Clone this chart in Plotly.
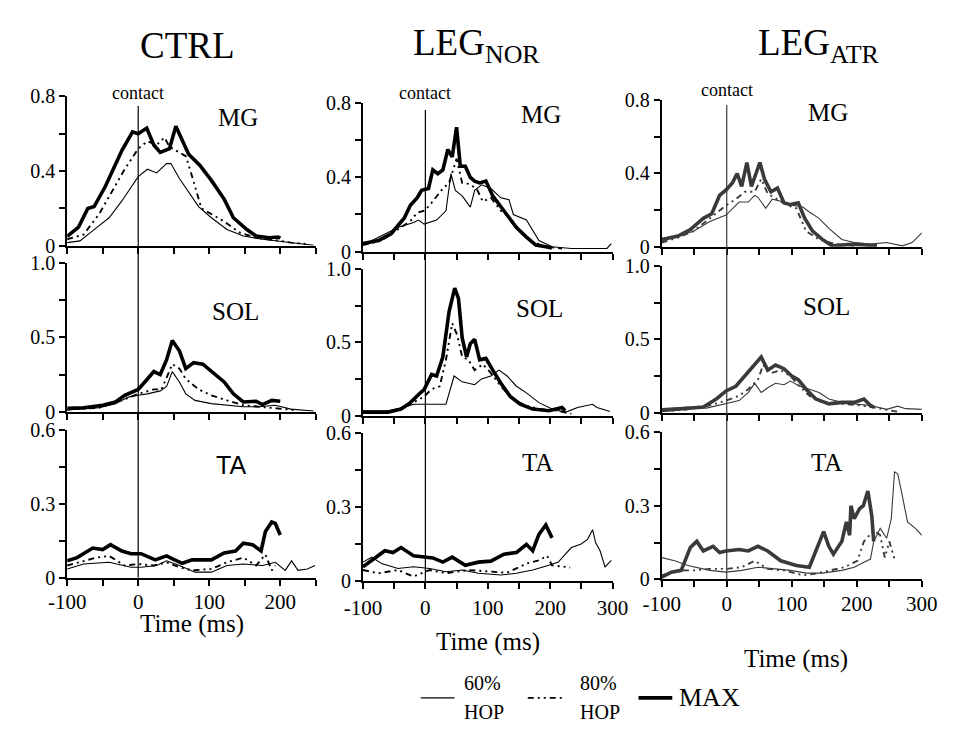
import plotly.graph_objects as go

W, H = 960, 736

# ---------------- labels ----------------
COLUMN_TITLES = ["CTRL", "LEG<sub>NOR</sub>", "LEG<sub>ATR</sub>"]
MUSCLES = ["MG", "SOL", "TA"]
CONDITION_NAMES = ["60% HOP", "80% HOP", "MAX"]
LEGEND_TOP = ["60%", "80%", ""]
LEGEND_BOTTOM = ["HOP", "HOP", ""]
X_TICKS_CTRL = [-100, -50, 0, 50, 100, 150, 200, 250]
X_TICKTEXT_CTRL = ["-100", "", "0", "", "100", "", "200", ""]
X_TICKS_LEG = [-100, -50, 0, 50, 100, 150, 200, 250, 300]
X_TICKTEXT_LEG = ["-100", "", "0", "", "100", "", "200", "", "300"]
Y_TICKS = {"MG": [0, 0.2, 0.4, 0.6, 0.8], "SOL": [0, 0.25, 0.5, 0.75, 1.0], "TA": [0, 0.15, 0.3, 0.45, 0.6]}
Y_TICKTEXT = {"MG": ["0", "", "0.4", "", "0.8"], "SOL": ["0", "", "0.5", "", "1.0"], "TA": ["0", "", "0.3", "", "0.6"]}

# ---------------- data: CTRL ----------------
CTRL_MG_60_T = [-100, -82, -59, -41, -23, -12, 0, 13, 26, 40, 46, 58, 71, 85, 103, 125, 148, 175, 202, 224, 247]
CTRL_MG_60_V = [0.017, 0.026, 0.096, 0.15, 0.24, 0.30, 0.37, 0.41, 0.39, 0.44, 0.44, 0.36, 0.29, 0.21, 0.15, 0.087, 0.052, 0.035, 0.023, 0.012, 0.003]
CTRL_MG_80_T = [-100, -77, -55, -37, -19, 0, 13, 26, 37, 44, 58, 67, 76, 89, 103, 121, 143, 166, 193, 215, 238]
CTRL_MG_80_V = [0.035, 0.06, 0.17, 0.29, 0.41, 0.52, 0.56, 0.54, 0.58, 0.53, 0.50, 0.48, 0.37, 0.20, 0.17, 0.13, 0.07, 0.043, 0.03, 0.017, 0.009]
CTRL_MG_MAX_T = [-100, -84, -71, -62, -46, -32, -23, -8, 0, 12, 22, 31, 44, 53, 62, 71, 87, 103, 121, 134, 153, 166, 184, 197, 200]
CTRL_MG_MAX_V = [0.05, 0.10, 0.20, 0.21, 0.32, 0.43, 0.51, 0.61, 0.60, 0.63, 0.54, 0.50, 0.52, 0.64, 0.56, 0.49, 0.43, 0.35, 0.25, 0.15, 0.087, 0.052, 0.043, 0.047, 0.04]

CTRL_SOL_60_T = [-100, -55, -32, -14, 0, 13, 31, 40, 48, 58, 67, 80, 103, 125, 148, 170, 193, 215, 247]
CTRL_SOL_60_V = [0.011, 0.026, 0.054, 0.098, 0.11, 0.12, 0.14, 0.17, 0.27, 0.20, 0.12, 0.076, 0.054, 0.043, 0.033, 0.033, 0.043, 0.017, 0.004]
CTRL_SOL_80_T = [-100, -55, -23, 0, 22, 33, 40, 48, 58, 67, 85, 103, 125, 148, 170, 193, 220]
CTRL_SOL_80_V = [0.015, 0.026, 0.076, 0.12, 0.15, 0.15, 0.23, 0.32, 0.29, 0.22, 0.15, 0.11, 0.076, 0.043, 0.033, 0.022, 0.011]
CTRL_SOL_MAX_T = [-100, -77, -50, -32, -19, 0, 13, 22, 31, 40, 48, 58, 67, 78, 91, 107, 121, 134, 148, 166, 175, 188, 197, 200]
CTRL_SOL_MAX_V = [0.022, 0.026, 0.043, 0.065, 0.11, 0.15, 0.22, 0.27, 0.25, 0.35, 0.48, 0.41, 0.29, 0.33, 0.32, 0.26, 0.20, 0.12, 0.065, 0.07, 0.048, 0.076, 0.076, 0.07]

CTRL_TA_60_T = [-100, -77, -41, -10, 4, 26, 40, 58, 80, 103, 125, 148, 175, 193, 207, 216, 225, 238, 249]
CTRL_TA_60_V = [0.035, 0.055, 0.062, 0.042, 0.042, 0.049, 0.068, 0.049, 0.022, 0.022, 0.049, 0.055, 0.049, 0.062, 0.029, 0.068, 0.029, 0.035, 0.049]
CTRL_TA_80_T = [-100, -77, -59, -41, -19, 0, 22, 40, 58, 76, 103, 125, 148, 166, 179, 188, 193]
CTRL_TA_80_V = [0.049, 0.068, 0.081, 0.088, 0.049, 0.055, 0.049, 0.062, 0.042, 0.029, 0.035, 0.062, 0.081, 0.049, 0.094, 0.029, 0.049]
CTRL_TA_MAX_T = [-100, -86, -64, -50, -39, -23, -10, 4, 24, 40, 49, 62, 76, 103, 121, 137, 148, 161, 173, 179, 188, 193, 200]
CTRL_TA_MAX_V = [0.068, 0.081, 0.12, 0.114, 0.134, 0.108, 0.097, 0.097, 0.072, 0.088, 0.075, 0.058, 0.072, 0.072, 0.10, 0.108, 0.14, 0.134, 0.108, 0.186, 0.226, 0.22, 0.173]

# ---------------- data: LEG NOR ----------------
NOR_MG_60_T = [-100, -70, -44, -19, -11, -2, 18, 33, 41, 48, 59, 72, 79, 90, 105, 121, 134, 141, 162, 182, 203, 234, 275, 291, 298]
NOR_MG_60_V = [0.035, 0.087, 0.13, 0.157, 0.17, 0.148, 0.17, 0.22, 0.42, 0.33, 0.30, 0.24, 0.33, 0.36, 0.34, 0.29, 0.28, 0.20, 0.17, 0.06, 0.026, 0.017, 0.017, 0.017, 0.043]
NOR_MG_80_T = [-100, -70, -44, -24, -13, -2, 7, 18, 28, 38, 50, 59, 69, 82, 92, 105, 121, 136, 152, 172, 193, 219]
NOR_MG_80_V = [0.035, 0.06, 0.12, 0.165, 0.21, 0.22, 0.25, 0.30, 0.34, 0.37, 0.50, 0.37, 0.365, 0.34, 0.27, 0.29, 0.22, 0.18, 0.11, 0.052, 0.026, 0.017]
NOR_MG_MAX_T = [-100, -75, -55, -34, -24, -13, -6, 5, 12, 20, 28, 36, 43, 50, 56, 64, 72, 79, 87, 97, 108, 126, 146, 162, 177, 193, 203]
NOR_MG_MAX_V = [0.043, 0.06, 0.096, 0.18, 0.25, 0.29, 0.33, 0.34, 0.44, 0.42, 0.44, 0.55, 0.51, 0.67, 0.46, 0.46, 0.40, 0.38, 0.37, 0.38, 0.30, 0.22, 0.13, 0.078, 0.035, 0.026, 0.02]

NOR_SOL_60_T = [-100, -60, -34, -19, -2, 18, 33, 46, 59, 79, 90, 105, 118, 131, 146, 162, 182, 203, 224, 244, 268, 275, 296]
NOR_SOL_60_V = [0.033, 0.033, 0.055, 0.077, 0.077, 0.077, 0.077, 0.27, 0.23, 0.21, 0.25, 0.27, 0.31, 0.27, 0.20, 0.155, 0.088, 0.044, 0.022, 0.055, 0.077, 0.055, 0.027]
NOR_SOL_80_T = [-100, -55, -24, -2, 10, 23, 33, 43, 51, 59, 69, 79, 92, 103, 121, 141, 162, 182, 213, 234]
NOR_SOL_80_V = [0.022, 0.027, 0.077, 0.13, 0.18, 0.20, 0.38, 0.63, 0.55, 0.40, 0.38, 0.31, 0.35, 0.30, 0.20, 0.11, 0.066, 0.044, 0.033, 0.011]
NOR_SOL_MAX_T = [-100, -60, -39, -24, -8, -2, 10, 18, 28, 38, 47, 53, 59, 66, 72, 79, 87, 97, 108, 121, 136, 152, 172, 198, 219, 224]
NOR_SOL_MAX_V = [0.022, 0.022, 0.044, 0.088, 0.155, 0.177, 0.28, 0.27, 0.40, 0.71, 0.87, 0.80, 0.53, 0.40, 0.49, 0.52, 0.38, 0.39, 0.31, 0.22, 0.13, 0.077, 0.044, 0.033, 0.055, 0.033]

NOR_TA_60_T = [-100, -86, -70, -44, -19, 7, 33, 59, 85, 121, 146, 172, 198, 213, 234, 249, 260, 268, 273, 280, 288, 298]
NOR_TA_60_V = [0.078, 0.098, 0.072, 0.052, 0.059, 0.052, 0.039, 0.046, 0.033, 0.026, 0.033, 0.046, 0.065, 0.078, 0.137, 0.15, 0.17, 0.209, 0.156, 0.124, 0.059, 0.085]
NOR_TA_80_T = [-100, -75, -44, -19, 7, 33, 69, 100, 131, 162, 182, 195, 203, 224, 232]
NOR_TA_80_V = [0.046, 0.033, 0.046, 0.020, 0.046, 0.033, 0.046, 0.039, 0.035, 0.072, 0.085, 0.104, 0.065, 0.059, 0.056]
NOR_TA_MAX_T = [-100, -86, -65, -52, -39, -19, -2, 12, 28, 43, 64, 85, 105, 126, 146, 162, 172, 182, 193, 203]
NOR_TA_MAX_V = [0.059, 0.085, 0.124, 0.117, 0.137, 0.104, 0.098, 0.095, 0.078, 0.098, 0.065, 0.078, 0.082, 0.11, 0.117, 0.15, 0.124, 0.19, 0.228, 0.176]

# ---------------- data: LEG ATR ----------------
ATR_MG_60_T = [-100, -75, -51, -26, -1, 19, 33, 43, 48, 60, 70, 88, 102, 117, 127, 142, 157, 177, 196, 221, 246, 270, 285, 300]
ATR_MG_60_V = [0.032, 0.058, 0.085, 0.138, 0.173, 0.244, 0.244, 0.28, 0.27, 0.21, 0.26, 0.244, 0.226, 0.217, 0.19, 0.155, 0.10, 0.04, 0.023, 0.014, 0.023, 0.005, 0.023, 0.076]
ATR_MG_80_T = [-100, -75, -51, -26, -1, 14, 28, 43, 53, 63, 78, 93, 107, 122, 142, 167, 196]
ATR_MG_80_V = [0.023, 0.05, 0.085, 0.155, 0.226, 0.26, 0.30, 0.30, 0.37, 0.29, 0.26, 0.226, 0.21, 0.085, 0.04, 0.014, 0.005]
ATR_MG_MAX_T = [-100, -75, -56, -36, -23, -11, -1, 9, 16, 23, 31, 38, 51, 58, 68, 78, 88, 98, 110, 120, 132, 147, 162, 196, 231]
ATR_MG_MAX_V = [0.04, 0.058, 0.094, 0.155, 0.18, 0.28, 0.31, 0.35, 0.40, 0.33, 0.46, 0.33, 0.46, 0.37, 0.30, 0.32, 0.24, 0.23, 0.24, 0.155, 0.085, 0.04, 0.005, 0.014, 0.005]

ATR_SOL_60_T = [-100, -60, -31, -1, 19, 33, 43, 53, 63, 75, 88, 98, 112, 127, 142, 157, 177, 196, 221, 246, 263, 275, 300]
ATR_SOL_60_V = [0.027, 0.038, 0.031, 0.06, 0.082, 0.137, 0.20, 0.137, 0.17, 0.20, 0.19, 0.215, 0.18, 0.16, 0.137, 0.093, 0.07, 0.06, 0.049, 0.022, 0.044, 0.027, 0.022]
ATR_SOL_80_T = [-100, -60, -26, -1, 19, 33, 48, 56, 68, 83, 98, 112, 127, 147, 177, 206, 236, 265]
ATR_SOL_80_V = [0.009, 0.022, 0.049, 0.082, 0.115, 0.16, 0.225, 0.325, 0.27, 0.29, 0.25, 0.18, 0.115, 0.07, 0.06, 0.049, 0.027, 0.004]
ATR_SOL_MAX_T = [-100, -60, -36, -16, -1, 14, 28, 43, 53, 63, 75, 88, 100, 110, 122, 137, 157, 177, 196, 211, 221, 226]
ATR_SOL_MAX_V = [0.015, 0.027, 0.038, 0.093, 0.148, 0.18, 0.25, 0.325, 0.38, 0.29, 0.325, 0.30, 0.25, 0.225, 0.16, 0.093, 0.06, 0.07, 0.07, 0.093, 0.049, 0.038]

ATR_TA_60_T = [-100, -80, -60, -26, -1, 23, 48, 73, 98, 122, 147, 177, 196, 211, 221, 226, 236, 246, 253, 258, 263, 270, 278, 290, 300]
ATR_TA_60_V = [0.089, 0.076, 0.057, 0.037, 0.03, 0.037, 0.05, 0.043, 0.037, 0.026, 0.026, 0.037, 0.05, 0.07, 0.083, 0.155, 0.208, 0.168, 0.247, 0.438, 0.43, 0.34, 0.234, 0.208, 0.18]
ATR_TA_80_T = [-100, -75, -51, -26, -1, 23, 43, 63, 88, 117, 137, 157, 181, 201, 211, 226, 236, 243, 250, 258]
ATR_TA_80_V = [0.017, 0.037, 0.037, 0.043, 0.043, 0.05, 0.076, 0.043, 0.037, 0.017, 0.024, 0.037, 0.05, 0.076, 0.155, 0.20, 0.18, 0.089, 0.155, 0.083]
ATR_TA_MAX_T = [-100, -85, -70, -56, -46, -36, -21, -11, -1, 19, 33, 48, 63, 83, 107, 127, 137, 149, 157, 164, 177, 184, 189, 191, 196, 204, 210, 217, 223, 226]
ATR_TA_MAX_V = [0.01, 0.03, 0.037, 0.13, 0.155, 0.116, 0.135, 0.11, 0.116, 0.122, 0.116, 0.135, 0.116, 0.076, 0.057, 0.05, 0.116, 0.195, 0.135, 0.103, 0.155, 0.234, 0.18, 0.30, 0.247, 0.287, 0.30, 0.36, 0.26, 0.155]

SERIES = [
    [  # CTRL
        [(CTRL_MG_60_T, CTRL_MG_60_V), (CTRL_MG_80_T, CTRL_MG_80_V), (CTRL_MG_MAX_T, CTRL_MG_MAX_V)],
        [(CTRL_SOL_60_T, CTRL_SOL_60_V), (CTRL_SOL_80_T, CTRL_SOL_80_V), (CTRL_SOL_MAX_T, CTRL_SOL_MAX_V)],
        [(CTRL_TA_60_T, CTRL_TA_60_V), (CTRL_TA_80_T, CTRL_TA_80_V), (CTRL_TA_MAX_T, CTRL_TA_MAX_V)],
    ],
    [  # LEG NOR
        [(NOR_MG_60_T, NOR_MG_60_V), (NOR_MG_80_T, NOR_MG_80_V), (NOR_MG_MAX_T, NOR_MG_MAX_V)],
        [(NOR_SOL_60_T, NOR_SOL_60_V), (NOR_SOL_80_T, NOR_SOL_80_V), (NOR_SOL_MAX_T, NOR_SOL_MAX_V)],
        [(NOR_TA_60_T, NOR_TA_60_V), (NOR_TA_80_T, NOR_TA_80_V), (NOR_TA_MAX_T, NOR_TA_MAX_V)],
    ],
    [  # LEG ATR
        [(ATR_MG_60_T, ATR_MG_60_V), (ATR_MG_80_T, ATR_MG_80_V), (ATR_MG_MAX_T, ATR_MG_MAX_V)],
        [(ATR_SOL_60_T, ATR_SOL_60_V), (ATR_SOL_80_T, ATR_SOL_80_V), (ATR_SOL_MAX_T, ATR_SOL_MAX_V)],
        [(ATR_TA_60_T, ATR_TA_60_V), (ATR_TA_80_T, ATR_TA_80_V), (ATR_TA_MAX_T, ATR_TA_MAX_V)],
    ],
]

# ---------------- layout geometry (pixels) ----------------
GEOM = [
    dict(x=(50, 308), rows=[(88, 242), (260, 413), (432, 584)], xmax=250, line_top=98,
         contact_y=85, title_x=175, time_x=180, time_y=632, labels=[(227, 110), (225, 310), (220, 468)], std=-2),
    dict(x=(357, 616), rows=[(95, 248), (266, 417), (435, 588)], xmax=300, line_top=102,
         contact_y=85, title_x=475, time_x=487, time_y=650, labels=[(542, 107), (540, 307), (538, 465)], std=0),
    dict(x=(667, 937), rows=[(92, 243), (263, 414), (434, 586)], xmax=300, line_top=97,
         contact_y=81, title_x=830, time_x=806, time_y=668, labels=[(840, 105), (838, 305), (838, 465)], std=-2),
]
Y_RANGES = {"MG": [0, 0.8], "SOL": [0, 1.0], "TA": [0, 0.6]}
COL_COLORS = ["#000000", "#000000", "#3a3a3a"]
SERIF = "Liberation Serif"
LEGEND_LINES = [(417, 452), (528, 565), (643, 678)]
LEGEND_TEXT_X = [460, 580, 683]
LEGEND_Y = 708


def px_x(v):
    return v / W


def px_y(v):
    return 1 - v / H


def line_styles(col):
    return [
        dict(color=col, width=1.1),
        dict(color=col, width=1.9, dash="6px,4px,2px,4px,2px,4px"),
        dict(color=col, width=3.6),
    ]


fig = go.Figure()
layout = dict(
    width=W, height=H, margin=dict(l=0, r=0, t=0, b=0),
    paper_bgcolor="white", plot_bgcolor="white", showlegend=False,
    font=dict(family=SERIF, color="black"),
)
shapes, annotations = [], []

for c in range(3):
    g = GEOM[c]
    styles = line_styles(COL_COLORS[c])
    for r, m in enumerate(MUSCLES):
        n = c * 3 + r + 1
        xs = "" if n == 1 else str(n)
        top, bot = g["rows"][r]
        xt = X_TICKS_CTRL if c == 0 else X_TICKS_LEG
        xtt = X_TICKTEXT_CTRL if c == 0 else X_TICKTEXT_LEG
        if r != 2:
            xtt = [""] * len(xt)
        layout["xaxis" + xs] = dict(
            domain=[px_x(g["x"][0]), px_x(g["x"][1])], range=[-100, g["xmax"]],
            anchor="y" + xs, showline=True, linecolor="black", linewidth=2,
            ticks="outside", ticklen=6, tickwidth=1.5, tickcolor="black",
            tickvals=xt, ticktext=xtt, showgrid=False, zeroline=False,
            tickfont=dict(family=SERIF, size=21, color="black"),
            ticklabelstandoff=g["std"], fixedrange=True,
        )
        layout["yaxis" + xs] = dict(
            domain=[px_y(bot), px_y(top)], range=Y_RANGES[m],
            anchor="x" + xs, showline=True, linecolor="black", linewidth=2,
            ticks="outside", ticklen=6, tickwidth=1.5, tickcolor="black",
            tickvals=Y_TICKS[m], ticktext=Y_TICKTEXT[m], showgrid=False, zeroline=False,
            tickfont=dict(family=SERIF, size=20, color="black"), ticklabelstandoff=0,
            fixedrange=True,
        )
        for k in range(3):
            t, v = SERIES[c][r][k]
            fig.add_trace(go.Scatter(
                x=t, y=v, mode="lines", line=styles[k], xaxis="x" + xs, yaxis="y" + xs,
                name=CONDITION_NAMES[k], showlegend=False, hoverinfo="skip",
            ))
        lx, ly = g["labels"][r]
        annotations.append(dict(
            text=m, x=px_x(lx), y=px_y(ly), xref="paper", yref="paper",
            showarrow=False, xanchor="center", yanchor="middle",
            font=dict(family=("Liberation Sans" if (c == 0 and m == "TA") else SERIF), size=25, color="black"),
        ))
    # contact line across the three rows
    xs_mg = "" if c == 0 else str(c * 3 + 1)
    shapes.append(dict(
        type="line", xref="x" + xs_mg, yref="paper", x0=0, x1=0,
        y0=px_y(g["rows"][2][1]), y1=px_y(g["line_top"]),
        line=dict(color=COL_COLORS[c], width=1.2), layer="above",
    ))
    annotations.append(dict(
        text="contact", x=0, xref="x" + xs_mg, y=px_y(g["contact_y"]), yref="paper",
        showarrow=False, xanchor="center", yanchor="middle",
        font=dict(family=SERIF, size=18, color="black"),
    ))
    annotations.append(dict(
        text=COLUMN_TITLES[c], x=px_x(g["title_x"]), y=px_y(36), xref="paper", yref="paper",
        showarrow=False, xanchor="center", yanchor="middle",
        font=dict(family=SERIF, size=37, color="black"),
    ))
    annotations.append(dict(
        text="Time (ms)", x=px_x(g["time_x"]), y=px_y(g["time_y"]),
        xref="paper", yref="paper", showarrow=False, xanchor="center", yanchor="middle",
        font=dict(family=SERIF, size=25, color="black"),
    ))

# legend (drawn by hand so the two-line labels sit like the original)
leg_styles = line_styles("#000000")
for k in range(3):
    x0, x1 = LEGEND_LINES[k]
    shapes.append(dict(
        type="line", xref="paper", yref="paper", x0=px_x(x0), x1=px_x(x1),
        y0=px_y(LEGEND_Y), y1=px_y(LEGEND_Y), line=leg_styles[k],
    ))
    if LEGEND_TOP[k]:
        annotations.append(dict(
            text=LEGEND_TOP[k], x=px_x(LEGEND_TEXT_X[k]), y=px_y(LEGEND_Y - 15), xref="paper", yref="paper",
            showarrow=False, xanchor="left", yanchor="middle",
            font=dict(family=SERIF, size=20, color="black"),
        ))
        annotations.append(dict(
            text=LEGEND_BOTTOM[k], x=px_x(LEGEND_TEXT_X[k]), y=px_y(LEGEND_Y + 15), xref="paper", yref="paper",
            showarrow=False, xanchor="left", yanchor="middle",
            font=dict(family=SERIF, size=20, color="black"),
        ))
    else:
        annotations.append(dict(
            text=CONDITION_NAMES[k], x=px_x(LEGEND_TEXT_X[k]), y=px_y(LEGEND_Y), xref="paper", yref="paper",
            showarrow=False, xanchor="left", yanchor="middle",
            font=dict(family=SERIF, size=26, color="black"),
        ))

layout["shapes"] = shapes
layout["annotations"] = annotations
fig.update_layout(**layout)
fig.write_html("out.html")
